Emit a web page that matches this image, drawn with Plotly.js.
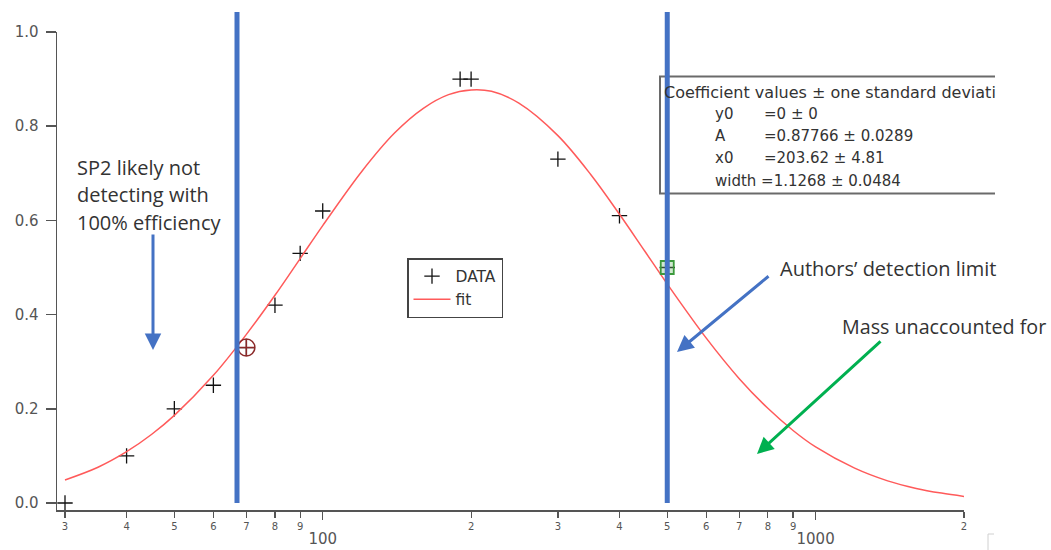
<!DOCTYPE html>
<html><head><meta charset="utf-8">
<script src="https://cdn.plot.ly/plotly-3.0.1.min.js"></script>
<style>body{margin:0;background:#fff}#chart{width:1051px;height:550px}</style>
</head><body><div id="chart"></div>
<script>
// ---- data ----
const dataX = [30, 40, 50, 60, 70, 80, 90, 100, 190, 200, 300, 400, 500];
const dataY = [0.00, 0.10, 0.20, 0.25, 0.33, 0.42, 0.53, 0.62, 0.90, 0.90, 0.73, 0.61, 0.50];
const fitX = [30, 35, 40, 45, 50, 60, 70, 80, 90, 100, 120, 140, 160, 180, 200, 220, 250, 300, 350, 400, 450, 500, 600, 700, 800, 900, 1000, 1200, 1400, 1600, 1800, 2000];
const fitY = [0.049, 0.076, 0.109, 0.146, 0.186, 0.271, 0.358, 0.441, 0.519, 0.589, 0.704, 0.786, 0.838, 0.867, 0.877, 0.874, 0.849, 0.780, 0.697, 0.613, 0.535, 0.465, 0.350, 0.264, 0.201, 0.154, 0.119, 0.074, 0.047, 0.031, 0.021, 0.014];
const cursorAX = [70], cursorAY = [0.33];
const cursorBX = [500], cursorBY = [0.50];
const limitLines = [67, 500];
const minorTickVals = [30, 40, 50, 60, 70, 80, 90, 200, 300, 400, 500, 600, 700, 800, 900, 2000];
const minorTickText = ['3', '4', '5', '6', '7', '8', '9', '2', '3', '4', '5', '6', '7', '8', '9', '2'];
const majorTickVals = [100, 1000];
const majorTickText = ['100', '1000'];
const yTickVals = [0, 0.2, 0.4, 0.6, 0.8, 1.0];
const coefTitle = 'Coefficient values ± one standard deviati';
const coefNames = ['y0', 'A', 'x0'];
const coefValues = ['=0 ± 0', '=0.87766 ± 0.0289', '=203.62 ± 4.81'];
const coefWidthLine = 'width =1.1268 ± 0.0484';
const sp2Lines = ['SP2 likely not', 'detecting with', '100% efficiency'];
const authorsText = 'Authors\u2019 detection limit';
const massText = 'Mass unaccounted for';

// ---- layout helpers (pixel -> paper) ----
const L = 57, R = 964, T = 32, B = 510;
const W = R - L, H = B - T;
const px = x => (x - L) / W;
const py = y => (B - y) / H;

const BLUE = '#4472C4', GREEN = '#00B050', TXT = '#333333', AX = '#555555';
const tickFont = {family: 'DejaVu Sans, sans-serif', color: AX};

const traces = [
  {x: dataX, y: dataY, type: 'scatter', mode: 'markers', name: 'DATA',
   marker: {symbol: 'cross-thin-open', size: 11, color: '#111', line: {width: 1.3, color: '#111'}}},
  {x: fitX, y: fitY, type: 'scatter', mode: 'lines', name: 'fit',
   line: {color: '#FF5A5A', width: 1.5, shape: 'spline'}},
  {x: cursorAX, y: cursorAY, type: 'scatter', mode: 'markers', showlegend: false, xaxis: 'x2',
   marker: {symbol: 'circle-cross-open', size: 17, color: '#8B2A2A', line: {width: 1.5, color: '#8B2A2A'}}},
  {x: cursorBX, y: cursorBY, type: 'scatter', mode: 'markers', showlegend: false, xaxis: 'x2',
   marker: {symbol: 'square', size: 13, color: 'rgba(120,190,120,0.35)', line: {width: 1.8, color: '#3C9A3C'}}}
];

const shapes = limitLines.map(v => ({type: 'line', xref: 'x', yref: 'paper', x0: v, x1: v,
  y0: py(503), y1: py(12), line: {color: BLUE, width: 5}, layer: 'above'}));
// coefficient box (right side cut)
shapes.push({type: 'path', xref: 'paper', yref: 'paper', layer: 'below',
  path: `M ${px(995)},${py(76.5)} L ${px(660)},${py(76.5)} L ${px(660)},${py(193.5)} L ${px(995)},${py(193.5)}`,
  line: {color: '#6a6a6a', width: 2}});
shapes.push({type: 'path', xref: 'paper', yref: 'paper',
  path: `M ${px(988)},${py(550)} L ${px(988)},${py(534)} L ${px(994)},${py(534)}`,
  line: {color: '#d0d0d0', width: 1}});

const annFont = {family: 'Open Sans, Lato, sans-serif', size: 20, color: TXT};
const coefFont = {family: 'DejaVu Sans, sans-serif', size: 15, color: TXT};
const annotations = [];
const sp2Y = [167, 194, 222];
sp2Lines.forEach((t, i) => annotations.push({xref: 'paper', yref: 'paper', x: px(75), y: py(sp2Y[i]),
  xanchor: 'left', yanchor: 'middle', text: t, showarrow: false, font: annFont}));
annotations.push({xref: 'paper', yref: 'paper', x: px(778), y: py(268), xanchor: 'left', yanchor: 'middle',
  text: authorsText, showarrow: false, font: annFont});
annotations.push({xref: 'paper', yref: 'paper', x: px(840), y: py(326), xanchor: 'left', yanchor: 'middle',
  text: massText, showarrow: false, font: Object.assign({}, annFont, {size: 19.7})});
// arrows
annotations.push({xref: 'paper', yref: 'paper', x: px(153), y: py(350), ax: 0, ay: -117, text: '',
  showarrow: true, arrowhead: 2, arrowwidth: 3, arrowsize: 1.1, arrowcolor: BLUE});
annotations.push({xref: 'paper', yref: 'paper', x: px(677), y: py(352), ax: 93, ay: -77, text: '',
  showarrow: true, arrowhead: 2, arrowwidth: 3, arrowsize: 1.1, arrowcolor: BLUE});
annotations.push({xref: 'paper', yref: 'paper', x: px(757), y: py(454), ax: 125, ay: -114, text: '',
  showarrow: true, arrowhead: 2, arrowwidth: 3, arrowsize: 1.1, arrowcolor: GREEN});
// coefficient text
annotations.push({xref: 'paper', yref: 'paper', x: px(662), y: py(92), xanchor: 'left', yanchor: 'middle',
  text: coefTitle, showarrow: false, font: Object.assign({}, coefFont, {size: 16})});
const coefY = [114, 136, 158];
coefNames.forEach((n, i) => {
  annotations.push({xref: 'paper', yref: 'paper', x: px(713), y: py(coefY[i]), xanchor: 'left', yanchor: 'middle',
    text: n, showarrow: false, font: coefFont});
  annotations.push({xref: 'paper', yref: 'paper', x: px(762), y: py(coefY[i]), xanchor: 'left', yanchor: 'middle',
    text: coefValues[i], showarrow: false, font: coefFont});
});
annotations.push({xref: 'paper', yref: 'paper', x: px(713), y: py(181), xanchor: 'left', yanchor: 'middle',
  text: coefWidthLine, showarrow: false, font: coefFont});

const xRange = [Math.log10(30) - 8 / 493, Math.log10(2000)];
const layout = {
  width: 1051, height: 550,
  margin: {l: L, r: 1051 - R, t: T, b: 550 - B},
  paper_bgcolor: '#fff', plot_bgcolor: '#fff',
  showlegend: true,
  legend: {x: px(407), y: py(258), xanchor: 'left', yanchor: 'top', bgcolor: '#fff',
    bordercolor: '#444', borderwidth: 1.5, font: {family: 'DejaVu Sans, sans-serif', size: 15.5, color: TXT},
    tracegroupgap: 0, itemwidth: 37},
  xaxis: {type: 'log', range: xRange, tickmode: 'array', tickvals: minorTickVals, ticktext: minorTickText,
    ticks: 'outside', ticklen: 6, tickwidth: 1.2, tickcolor: AX, showgrid: false, zeroline: false,
    showline: true, linecolor: AX, linewidth: 1.5, tickfont: Object.assign({size: 10}, tickFont), anchor: 'y'},
  xaxis2: {type: 'log', range: xRange, overlaying: 'x', anchor: 'y', side: 'bottom', tickmode: 'array',
    tickvals: majorTickVals, ticktext: majorTickText, ticks: 'outside', ticklen: 9, tickwidth: 1.4, tickcolor: AX,
    showgrid: false, zeroline: false, showline: false, ticklabelstandoff: 6,
    tickfont: Object.assign({size: 15}, tickFont)},
  yaxis: {range: [-(7 / 471), 1.0], tickmode: 'array', tickvals: yTickVals, tickformat: '.1f',
    ticks: 'outside', ticklen: 10, tickwidth: 1.5, tickcolor: AX, showgrid: false, zeroline: false,
    showline: true, linecolor: AX, linewidth: 1.5, ticklabelstandoff: 4, tickfont: Object.assign({size: 15}, tickFont)},
  shapes: shapes,
  annotations: annotations
};
Plotly.newPlot('chart', traces, layout, {displayModeBar: false, staticPlot: true});
</script></body></html>
